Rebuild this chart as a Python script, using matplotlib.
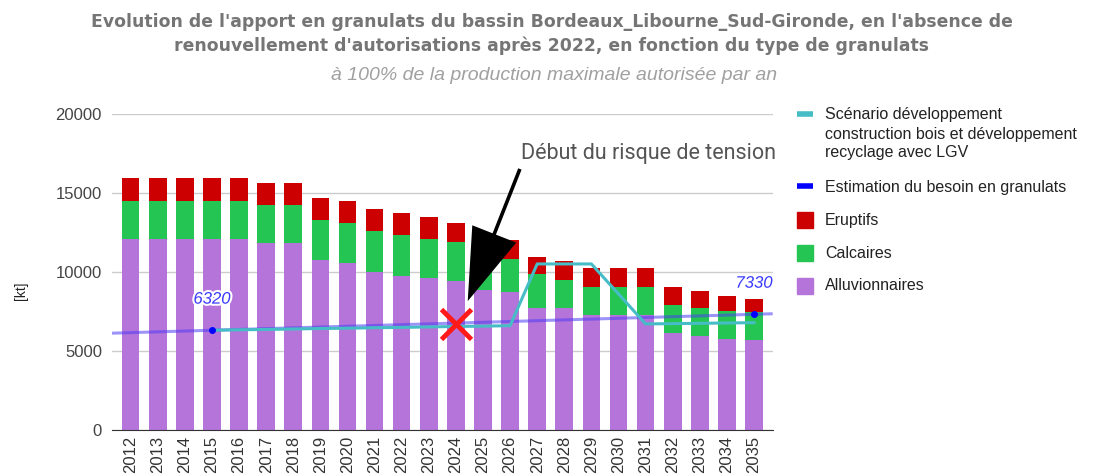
import numpy as np
import matplotlib
matplotlib.use("Agg")
import matplotlib.pyplot as plt
import matplotlib.patches as mpatches
import matplotlib.lines as mlines
import matplotlib.patheffects as pe

plt.rcParams['font.family'] = ['Liberation Sans', 'DejaVu Sans']

# ── données ─────────────────────────────────────────────
years = list(range(2012, 2036))
alluvionnaires = [12080, 12080, 12080, 12080, 12080, 11830, 11830, 10770, 10560, 10030,
                  9780, 9610, 9420, 8890, 8730, 7750, 7750, 7290, 7290, 7290,
                  6150, 5980, 5790, 5720]
calcaires = [2450, 2450, 2450, 2450, 2450, 2450, 2450, 2540, 2580, 2580,
             2560, 2480, 2470, 2150, 2110, 2120, 1760, 1770, 1770, 1770,
             1750, 1750, 1750, 1760]
eruptifs = [1420, 1420, 1420, 1420, 1420, 1390, 1390, 1410, 1390, 1390,
            1390, 1390, 1250, 1250, 1200, 1110, 1220, 1230, 1230, 1230,
            1140, 1060, 970, 840]

scenario_years = list(range(2015, 2036))
scenario_vals = [6320, 6350, 6370, 6400, 6430, 6450, 6480, 6500, 6530, 6560, 6580, 6610,
                 10520, 10520, 10520, 8620, 6720, 6740, 6760, 6780, 6800]

besoin_years = [2015, 2035]
besoin_vals = [6320, 7330]

tension_year = 2024
tension_val = 6700

C_ALLU = '#b574d9'
C_CALC = '#24c552'
C_ERUP = '#cc0000'
C_SCEN = '#46bdc6'
C_BES = '#0000ff'

fig = plt.figure(figsize=(10.99, 4.75), dpi=100)
ax = fig.add_axes([0.1016, 0.0947, 0.7031 - 0.1016, 0.7594 - 0.0947])

x = np.arange(len(years))
idx = {y: i for i, y in enumerate(years)}
w = 0.65
allu = np.array(alluvionnaires)
calc = np.array(calcaires)
erup = np.array(eruptifs)
ax.bar(x, allu, width=w, color=C_ALLU, zorder=2)
ax.bar(x, calc, width=w, bottom=allu, color=C_CALC, zorder=2)
ax.bar(x, erup, width=w, bottom=allu + calc, color=C_ERUP, zorder=2)

ax.set_xlim(-0.70, len(years) - 1 + 0.69)
ax.set_ylim(0, 20000)

# estimation du besoin (droite de tendance)
bx = np.array([idx[y] for y in besoin_years])
coef = np.polyfit(bx, besoin_vals, 1)
xl = np.array(ax.get_xlim())
ax.plot(xl, np.polyval(coef, xl), color='#4d3df5', alpha=0.55, lw=2.2, zorder=3,
        solid_capstyle='butt')
ax.plot(bx, besoin_vals, 'o', color=C_BES, ms=4, zorder=5)
for xx, v in zip(bx, besoin_vals):
    ax.annotate(str(v), (xx, v), textcoords='offset points', xytext=(0, 17),
                ha='center', va='bottom', fontsize=12, style='italic',
                color='#3a3aff', zorder=6,
                path_effects=[pe.withStroke(linewidth=3, foreground='white')])

# scénario
sx = [idx[y] for y in scenario_years]
ax.plot(sx, scenario_vals, color=C_SCEN, lw=2.2, zorder=4)

# risque de tension
tx = idx[tension_year]
ax.plot(tx, tension_val, marker='x', color='#ff1a1a', ms=22, mew=3.5, zorder=6)
ax.annotate('', xy=(tx + 0.4, 8000), xytext=(tx + 2.4, 16700),
            arrowprops=dict(arrowstyle='simple,head_width=1.7,head_length=2.6,tail_width=0.13',
                            mutation_scale=20, color='black', lw=0),
            zorder=7)
ax.text(tx + 2.4, 17500, 'Début du risque de tension', fontsize=15.5, color='#555555',
        ha='left', va='center', family=['Liberation Sans Narrow', 'Roboto', 'DejaVu Sans'])

# axes
ax.set_yticks([0, 5000, 10000, 15000, 20000])
ax.yaxis.grid(True, color='#cccccc', lw=1, zorder=0)
ax.set_axisbelow(True)
for s in ['top', 'right', 'left']:
    ax.spines[s].set_visible(False)
ax.spines['bottom'].set_color('#333333')
ax.spines['bottom'].set_zorder(8)
ax.tick_params(axis='y', length=0, pad=7, labelsize=12, labelcolor='#444444')
ax.set_xticks(x)
ax.set_xticklabels([str(y) for y in years], rotation=90, va='top')
ax.tick_params(axis='x', length=0, pad=4, labelsize=12, labelcolor='#333333')

W, H = 1099, 475
def fx(px): return px / W
def fy(py): return 1 - py / H

fig.text(fx(21), fy(291), '[kt]', rotation=90, ha='center', va='center',
         fontsize=10, color='#222222')

# titres
fig.text(fx(552), fy(22), "Evolution de l'apport en granulats du bassin Bordeaux_Libourne_Sud-Gironde, en l'absence de",
         ha='center', va='center', fontsize=12.4, fontweight='bold', color='#757575',
         family='DejaVu Sans')
fig.text(fx(552), fy(46), "renouvellement d'autorisations après 2022, en fonction du type de granulats",
         ha='center', va='center', fontsize=12.4, fontweight='bold', color='#757575',
         family='DejaVu Sans')
fig.text(fx(554), fy(76), "à 100% de la production maximale autorisée par an",
         ha='center', va='center', fontsize=14, style='italic', color='#a0a0a0')

# légende
def leg_text(py, s):
    fig.text(fx(825), fy(py), s, ha='left', va='center', fontsize=11.5, color='#222222')

fig.add_artist(mlines.Line2D([fx(797), fx(813)], [fy(114), fy(114)], color=C_SCEN, lw=4,
                             solid_capstyle='butt'))
leg_text(115, 'Scénario développement')
leg_text(134, 'construction bois et développement')
leg_text(153, 'recyclage avec LGV')
fig.add_artist(mlines.Line2D([fx(797), fx(813)], [fy(186), fy(186)], color=C_BES, lw=4,
                             solid_capstyle='butt'))
leg_text(187, 'Estimation du besoin en granulats')
for py, c, s in [(220, C_ERUP, 'Eruptifs'), (253, C_CALC, 'Calcaires'), (286, C_ALLU, 'Alluvionnaires')]:
    fig.add_artist(mpatches.Rectangle((fx(797), fy(py + 8)), fx(16), 16 / H, color=c))
    leg_text(py, s)

fig.savefig('out.png', dpi=100)
